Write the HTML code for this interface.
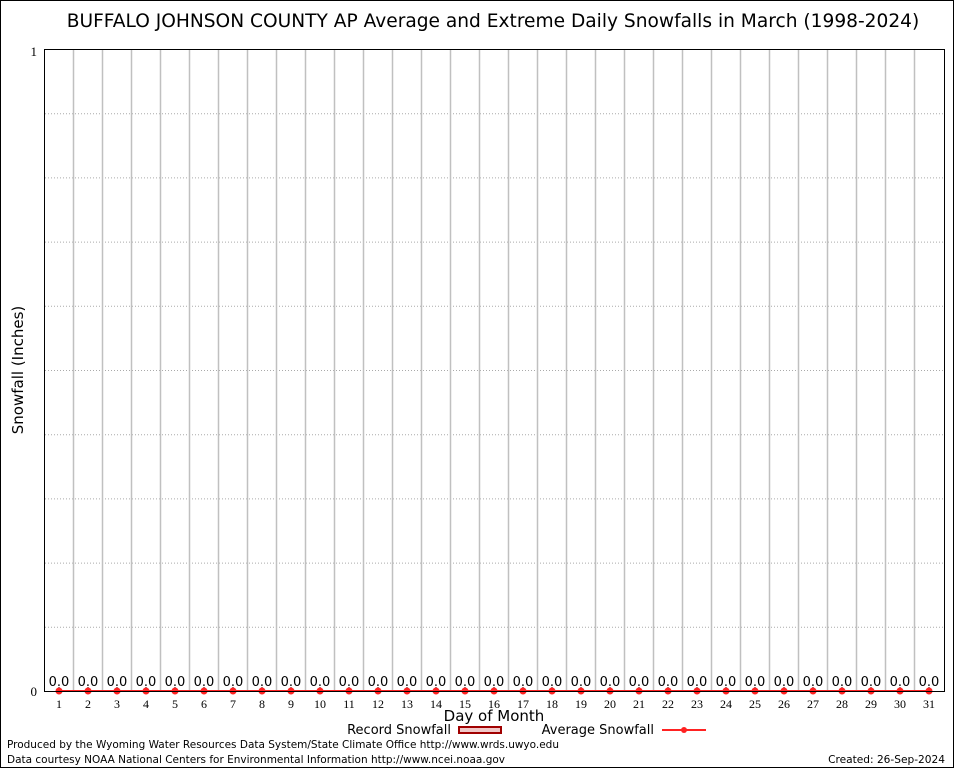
<!DOCTYPE html><html><head><style>body{margin:0;background:#fff}svg{display:block}</style></head><body>
<svg width="954" height="768" xmlns="http://www.w3.org/2000/svg" font-family="DejaVu Sans, Liberation Sans, sans-serif">
<rect x="0.5" y="0.5" width="953" height="767" fill="#fff" stroke="#000"/>
<text x="493" y="27" font-size="18.6" text-anchor="middle">BUFFALO JOHNSON COUNTY AP Average and Extreme Daily Snowfalls in March (1998-2024)</text>
<g id="g"></g>
<rect x="44.5" y="49.5" width="900" height="642" fill="none" stroke="#000"/>
<text x="37" y="56" font-size="13" font-family="Liberation Serif, serif" text-anchor="end">1</text>
<text x="37" y="696" font-size="13" font-family="Liberation Serif, serif" text-anchor="end">0</text>
<text transform="translate(23,370) rotate(-90)" font-size="15" text-anchor="middle">Snowfall (Inches)</text>
<text x="494" y="721" font-size="15" text-anchor="middle">Day of Month</text>
<text x="451" y="734" font-size="13" text-anchor="end">Record Snowfall</text>
<rect x="458" y="726" width="44" height="8" fill="#a00000"/><rect x="460" y="728" width="40" height="4" fill="#f0c8c8"/>
<text x="654" y="734" font-size="13" text-anchor="end">Average Snowfall</text>
<line x1="662" y1="730" x2="706" y2="730" stroke="#f22" stroke-width="2"/><circle cx="684" cy="730" r="3" fill="#f22"/>
<text x="7" y="748" font-size="10.6" textLength="552" lengthAdjust="spacingAndGlyphs">Produced by the Wyoming Water Resources Data System/State Climate Office http://www.wrds.uwyo.edu</text>
<text x="7" y="763" font-size="10.6" textLength="498" lengthAdjust="spacingAndGlyphs">Data courtesy NOAA National Centers for Environmental Information http://www.ncei.noaa.gov</text>
<text x="945" y="763" font-size="10.6" text-anchor="end">Created:  26-Sep-2024</text>
</svg>
<script>
var g=document.getElementById('g'),s='';
for(var k=1;k<10;k++){var y=49.5+64.2*k;s+='<line x1="45" x2="944" y1="'+y+'" y2="'+y+'" stroke="#aaa" stroke-dasharray="1,2"/>';}
for(var d=1;d<=31;d++){var x=59+29*(d-1);
if(d<31)s+='<line x1="'+(x+14.5)+'" x2="'+(x+14.5)+'" y1="50" y2="691" stroke="#c0c0c0" stroke-width="1.5"/>';
s+='<text x="'+x+'" y="686" font-size="13" text-anchor="middle">0.0</text>';
s+='<text x="'+x+'" y="708" font-size="12" font-family="Liberation Serif, serif" text-anchor="middle">'+d+'</text>';
s+='<line x1="'+x+'" x2="'+x+'" y1="687" y2="691" stroke="#000"/>';
s+='<circle cx="'+x+'" cy="691" r="3.5" fill="#f22"/>';}
s+='<line x1="59" x2="929" y1="691" y2="691" stroke="#f22" stroke-width="2"/>';
g.innerHTML=s;
</script>
</body></html>
